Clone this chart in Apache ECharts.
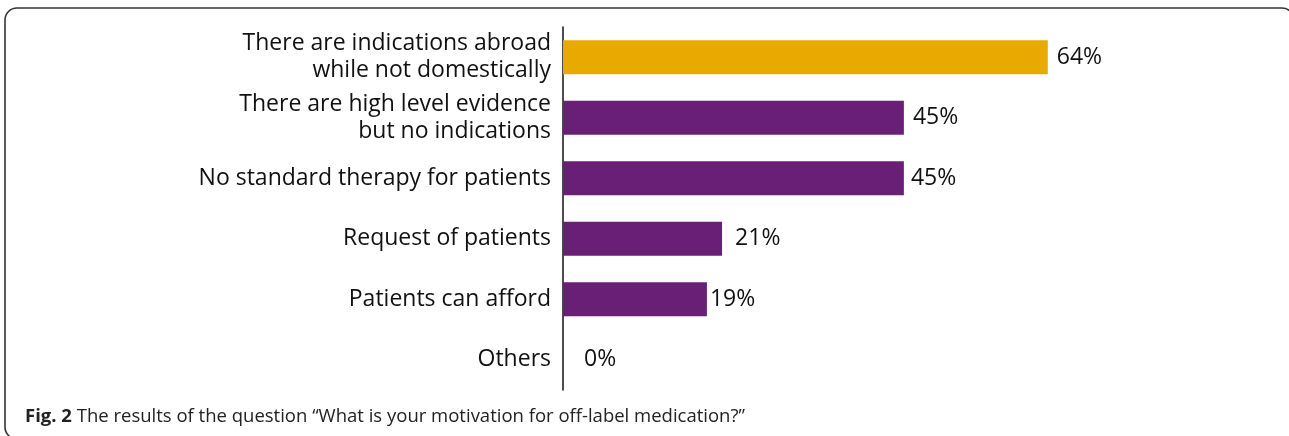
<!DOCTYPE html>
<html>
<head>
<meta charset="utf-8">
<script src="https://cdn.jsdelivr.net/npm/echarts@6/dist/echarts.min.js"></script>
<style>
html,body{margin:0;padding:0;background:#fff;}
#chart{width:1289px;height:436px;}
</style>
</head>
<body>
<div id="chart"></div>
<script>
const categories = [
  "There are indications abroad\nwhile not domestically",
  "There are high level evidence\nbut no indications",
  "No standard therapy for patients",
  "Request of patients",
  "Patients can afford",
  "Others"
];
const values = [64, 45, 45, 21, 19, 0];
const highlightIndex = 0;
const captionBold = "Fig. 2";
const captionText = " The results of the question \u201cWhat is your motivation for off-label medication?\u201d";

const labelDistances = [9, 9, 7, 13, 3, 21];

const chart = echarts.init(document.getElementById('chart'), null, {renderer: 'canvas'});
const FONT = "'Open Sans', 'Noto Sans', sans-serif";

const option = {
  backgroundColor: '#fff',
  animation: false,
  title: {
    left: 20,
    top: 402,
    text: '{b|' + captionBold + '}{n|' + captionText + '}',
    textStyle: {
      fontWeight: 'normal',
      rich: {
        b: {fontFamily: FONT, fontSize: 18.5, fontWeight: 'bold', color: '#222'},
        n: {fontFamily: FONT, fontSize: 18.5, fontWeight: 'normal', color: '#222'}
      }
    }
  },
  graphic: [{
    type: 'rect',
    silent: true,
    z: -1,
    shape: {x: 5, y: 8, width: 1289, height: 431, r: 12},
    style: {fill: 'none', stroke: '#333', lineWidth: 1.6}
  }],
  grid: {left: 563, top: 27, bottom: 46, right: 120},
  xAxis: {
    type: 'value',
    min: 0,
    max: 80,
    show: false
  },
  yAxis: {
    type: 'category',
    inverse: true,
    data: categories,
    axisLine: {show: true, lineStyle: {color: '#111', width: 1.5}},
    axisTick: {show: false},
    axisLabel: {
      fontFamily: FONT,
      fontSize: 23,
      color: '#111',
      margin: 12,
      lineHeight: 27,
      align: 'right'
    }
  },
  series: [{
    type: 'bar',
    barWidth: 34,
    data: values.map((v, i) => ({
      value: v,
      itemStyle: {color: i === highlightIndex ? '#E8A900' : '#6A1F77'},
      label: {distance: labelDistances[i]}
    })),
    label: {
      show: true,
      position: 'right',
      formatter: '{c}%',
      fontFamily: FONT,
      fontSize: 23,
      color: '#111'
    }
  }]
};
chart.setOption(option);
</script>
</body>
</html>
